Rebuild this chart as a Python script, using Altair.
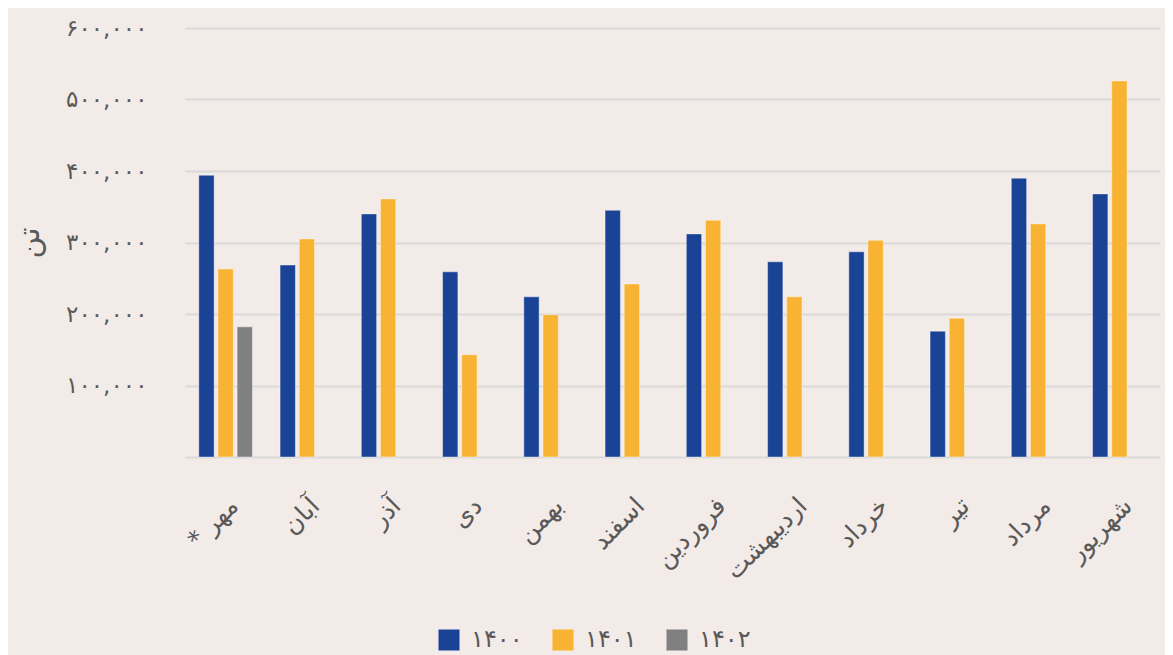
import altair as alt
import pandas as pd

months = ["مهر *\u200f", "آبان", "آذر", "دی", "بهمن", "اسفند", "فروردین",
          "اردیبهشت", "خرداد", "تیر", "مرداد", "شهریور"]
years = ["۱۴۰۰", "۱۴۰۱", "۱۴۰۲"]
v1400 = [394000, 268500, 340000, 259000, 224000, 345000, 312000, 273000, 287000, 176000, 390000, 368000]
v1401 = [263000, 305000, 361000, 143000, 199000, 242000, 331000, 224000, 303000, 194000, 326000, 526000]
v1402 = [182000]
colors = ["#1A4396", "#F8B333", "#808080"]
y_ticks = [100000, 200000, 300000, 400000, 500000, 600000]

rows = []
for series, yr in ((v1400, years[0]), (v1401, years[1]), (v1402, years[2])):
    for m, v in zip(months, series):
        rows.append({"month": m, "year": yr, "value": v})
df = pd.DataFrame(rows)

FONT = "DejaVu Sans"
TXT = "#595959"

digits_expr = "format(datum.value, ',d')"
for a, b in zip("0123456789", "۰۱۲۳۴۵۶۷۸۹"):
    digits_expr = f"replace({digits_expr}, regexp('{a}', 'g'), '{b}')"

chart = alt.Chart(df).mark_bar(stroke="#ffffff", strokeOpacity=0.4, strokeWidth=1).encode(
    x=alt.X("month:N", sort=months,
            scale=alt.Scale(paddingInner=0.34, paddingOuter=0.17),
            axis=alt.Axis(title=None, labelAngle=-45, labelAlign="right", labelBaseline="top",
                          labelFontSize=25, labelColor=TXT, labelFont=FONT, labelPadding=36,
                          ticks=False, domainColor="#D9D9D9", domainWidth=2, labelLimit=300)),
    xOffset=alt.XOffset("year:N", sort=years, scale=alt.Scale(paddingInner=0.2, paddingOuter=0)),
    y=alt.Y("value:Q", scale=alt.Scale(domain=[0, 600000]),
            axis=alt.Axis(title="تن", values=y_ticks, labelExpr=digits_expr,
                          labelFontSize=23, labelColor=TXT, labelFont=FONT, labelPadding=38,
                          ticks=False, domain=False, gridColor="#D9D9D9", gridWidth=2,
                          titleFontSize=30, titleFont=FONT, titleColor=TXT, titleFontWeight="normal",
                          titlePadding=21)),
    color=alt.Color("year:N", sort=years,
                    scale=alt.Scale(domain=years, range=colors),
                    legend=alt.Legend(orient="none", legendX=252, legendY=600,
                                      direction="horizontal", title=None,
                                      symbolType="square", symbolSize=441, symbolStrokeWidth=0,
                                      labelFontSize=24, labelFont=FONT, labelColor=TXT,
                                      columnPadding=28, labelOffset=10)),
).properties(
    width=975, height=429,
    background="#F3EBE7",
    autosize=alt.AutoSizeParams(type="none"),
    padding={"left": 177, "top": 20, "right": 5, "bottom": 198},
).configure_view(stroke=None)

chart.save("out.html", embed_options={"renderer": "svg", "actions": False})
